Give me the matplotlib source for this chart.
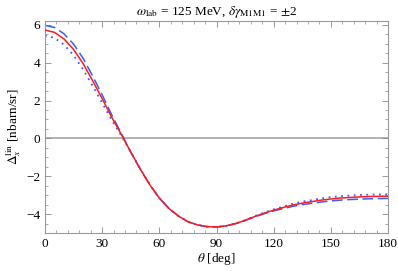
import matplotlib
matplotlib.use("Agg")
import matplotlib.pyplot as plt
from matplotlib.ticker import MultipleLocator

# angles in degrees
theta = [0, 5, 10, 15, 20, 25, 30, 35, 40, 45, 50, 55, 60, 65, 70, 75, 80, 85, 90,
         95, 100, 105, 110, 115, 120, 125, 130, 135, 140, 145, 150, 155, 160, 165,
         170, 175, 180]

# central curve (red, solid)
delta_mid = [5.72, 5.60, 5.25, 4.70, 3.95, 3.05, 2.10, 1.12, 0.22, -0.72, -1.62,
             -2.45, -3.15, -3.70, -4.10, -4.40, -4.57, -4.66, -4.68, -4.62, -4.50,
             -4.33, -4.13, -3.95, -3.79, -3.65, -3.52, -3.42, -3.34, -3.26, -3.20,
             -3.15, -3.12, -3.09, -3.07, -3.06, -3.05]

# delta gamma_M1M1 = +2 (blue, dashed)
delta_plus = [5.97, 5.86, 5.52, 4.98, 4.23, 3.30, 2.30, 1.25, 0.27, -0.73, -1.63,
              -2.46, -3.15, -3.70, -4.10, -4.40, -4.57, -4.66, -4.68, -4.62, -4.50,
              -4.34, -4.15, -3.98, -3.83, -3.71, -3.59, -3.50, -3.43, -3.36, -3.30,
              -3.26, -3.23, -3.21, -3.19, -3.18, -3.17]

# delta gamma_M1M1 = -2 (blue, dotted)
delta_minus = [5.44, 5.31, 4.95, 4.39, 3.64, 2.77, 1.88, 0.97, 0.16, -0.71, -1.61,
               -2.44, -3.15, -3.70, -4.10, -4.40, -4.57, -4.66, -4.68, -4.62, -4.50,
               -4.32, -4.11, -3.92, -3.75, -3.60, -3.45, -3.34, -3.26, -3.17, -3.10,
               -3.05, -3.02, -2.99, -2.97, -2.96, -2.95]

plt.rcParams['font.family'] = ['Liberation Serif', 'DejaVu Serif']
plt.rcParams['mathtext.fontset'] = 'stix'
plt.rcParams['font.size'] = 9.5

fig = plt.figure(figsize=(3.98, 2.71), dpi=100)
ax = fig.add_axes([0.113, 0.140, 0.862, 0.7825])

blue = '#3a5cff'
ax.axhline(0, color='#a6a6a6', linewidth=1.2, zorder=1)
ax.plot(theta, delta_plus, color=blue, linewidth=1.1, dashes=(7, 3), zorder=2)
ax.plot(theta, delta_minus, color=blue, linewidth=1.3, dashes=(1, 2.5), zorder=2)
ax.plot(theta, delta_mid, color='#ff1a1a', linewidth=1.1, zorder=3)

ax.set_xlim(0, 180)
ax.set_ylim(-5, 6.2)
ax.xaxis.set_major_locator(MultipleLocator(30))
ax.xaxis.set_minor_locator(MultipleLocator(6))
ax.yaxis.set_major_locator(MultipleLocator(2))
ax.yaxis.set_minor_locator(MultipleLocator(0.5))
ax.tick_params(which='both', direction='in', top=True, right=True,
               color='#888888', labelcolor='black')
ax.tick_params(which='major', length=4, width=0.6)
ax.tick_params(which='minor', length=2, width=0.5)
ax.set_yticks([-4, -2, 0, 2, 4, 6])
ax.set_yticklabels(['\u22124', '\u22122', '0', '2', '4', '6'])
for s in ax.spines.values():
    s.set_color('#999999')
    s.set_linewidth(0.8)

ax.set_title(r'$\omega_{\rm lab}$ = 125 MeV, $\delta\gamma_{\rm M1M1}$ = $\pm$2',
             fontsize=9.5, pad=4)
ax.set_xlabel(r'$\theta$ [deg]', labelpad=1)
ax.set_ylabel(r'$\Delta_x^{\rm lin}$ [nbarn/sr]', labelpad=2)

fig.savefig('out.png', dpi=100)
